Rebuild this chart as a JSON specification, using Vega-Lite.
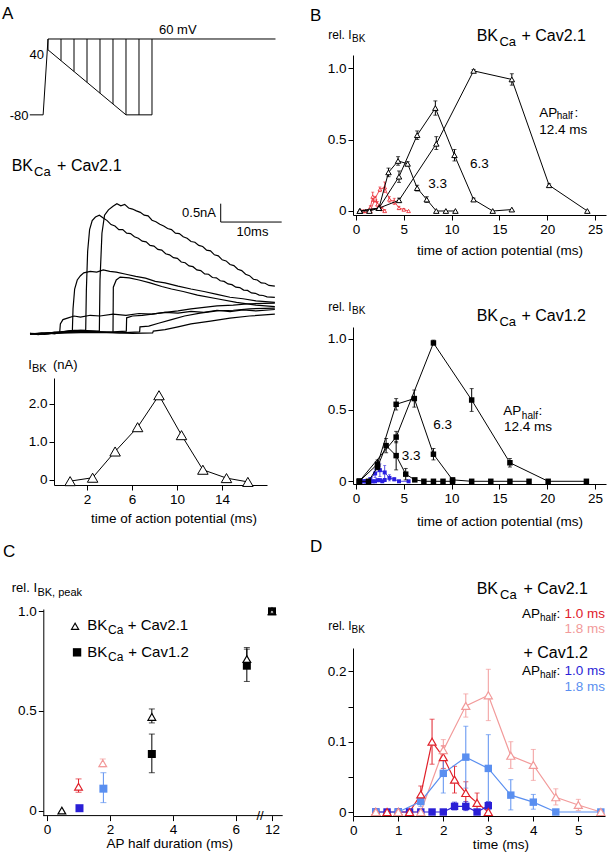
{
"$schema": "https://vega.github.io/schema/vega-lite/v6.json",
"background": "white",
"padding": {"left": 2, "top": 4, "right": 2, "bottom": 2},
"bounds": "flush",
"spacing": 299,
"config": {
  "view": {"stroke": null},
  "font": "Liberation Sans",
  "axis": {"domainColor": "black", "tickColor": "black", "labelColor": "black", "labelFont": "Liberation Sans", "labelFontSize": 13.5, "tickSize": 5, "labelPadding": 2, "grid": false, "domainWidth": 1, "tickWidth": 1, "labelFlush": false, "labelOverlap": false},
  "text": {"font": "Liberation Sans", "color": "black", "baseline": "alphabetic", "align": "left", "fontSize": 13.5}
},
"datasets": {
  "proto": [
    {"t1": -2.8, "v1": -80, "t2": -0.75, "v2": -80},
    {"t1": -0.75, "v1": -80, "t2": 0, "v2": 60},
    {"t1": 0, "v1": 60, "t2": 35, "v2": 60},
    {"t1": 0, "v1": 40, "t2": 12, "v2": -80},
    {"t1": 12, "v1": -80, "t2": 16, "v2": -80},
    {"t1": 0, "v1": 60, "t2": 0, "v2": 40},
    {"t1": 2, "v1": 60, "t2": 2, "v2": 20},
    {"t1": 4, "v1": 60, "t2": 4, "v2": 0},
    {"t1": 6, "v1": 60, "t2": 6, "v2": -20},
    {"t1": 8, "v1": 60, "t2": 8, "v2": -40},
    {"t1": 10, "v1": 60, "t2": 10, "v2": -60},
    {"t1": 12, "v1": 60, "t2": 12, "v2": -80},
    {"t1": 14, "v1": 60, "t2": 14, "v2": -80},
    {"t1": 16, "v1": 60, "t2": 16, "v2": -80}
  ],
  "traces": [
    {"tr":1,"t":-2.77,"i":0.02},{"tr":1,"t":-1.5,"i":-0.02},{"tr":1,"t":0,"i":0.03},{"tr":1,"t":1,"i":0},{"tr":1,"t":1.8,"i":0.04},{"tr":1,"t":1.9,"i":0.28},{"tr":1,"t":2.3,"i":0.4},{"tr":1,"t":3,"i":0.44},{"tr":1,"t":4,"i":0.5},{"tr":1,"t":5,"i":0.47},{"tr":1,"t":6.5,"i":0.52},{"tr":1,"t":8,"i":0.5},{"tr":1,"t":10,"i":0.55},{"tr":1,"t":12,"i":0.52},{"tr":1,"t":14,"i":0.57},{"tr":1,"t":16,"i":0.55},{"tr":1,"t":18,"i":0.6},{"tr":1,"t":20,"i":0.58},{"tr":1,"t":22,"i":0.63},{"tr":1,"t":24,"i":0.6},{"tr":1,"t":26,"i":0.66},{"tr":1,"t":28,"i":0.62},{"tr":1,"t":30,"i":0.67},{"tr":1,"t":32,"i":0.64},{"tr":1,"t":34.9,"i":0.68},
    {"tr":2,"t":-2.77,"i":0},{"tr":2,"t":-1,"i":0.03},{"tr":2,"t":0,"i":0.02},{"tr":2,"t":1,"i":0.05},{"tr":2,"t":2,"i":0.05},{"tr":2,"t":3,"i":0.08},{"tr":2,"t":3.75,"i":0.1},{"tr":2,"t":3.85,"i":0.7},{"tr":2,"t":4.1,"i":1.25},{"tr":2,"t":4.5,"i":1.5},{"tr":2,"t":5,"i":1.62},{"tr":2,"t":5.5,"i":1.7},{"tr":2,"t":6.5,"i":1.74},{"tr":2,"t":7.5,"i":1.72},{"tr":2,"t":8.5,"i":1.78},{"tr":2,"t":9.5,"i":1.74},{"tr":2,"t":10.5,"i":1.72},{"tr":2,"t":12,"i":1.66},{"tr":2,"t":13.5,"i":1.6},{"tr":2,"t":15,"i":1.55},{"tr":2,"t":16.5,"i":1.46},{"tr":2,"t":18,"i":1.42},{"tr":2,"t":20,"i":1.33},{"tr":2,"t":22,"i":1.25},{"tr":2,"t":24,"i":1.18},{"tr":2,"t":26,"i":1.1},{"tr":2,"t":28,"i":1.02},{"tr":2,"t":30,"i":0.98},{"tr":2,"t":32,"i":0.92},{"tr":2,"t":34.9,"i":0.88},
    {"tr":3,"t":-2.77,"i":0.01},{"tr":3,"t":-0.5,"i":-0.01},{"tr":3,"t":2,"i":0.06},{"tr":3,"t":4,"i":0.1},{"tr":3,"t":5.8,"i":0.1},{"tr":3,"t":5.9,"i":1.2},{"tr":3,"t":6.1,"i":2.3},{"tr":3,"t":6.4,"i":2.9},{"tr":3,"t":6.8,"i":3.15},{"tr":3,"t":7.3,"i":3.25},{"tr":3,"t":7.9,"i":3.3},{"tr":3,"t":8.5,"i":3.22},{"tr":3,"t":9.1,"i":3.15},{"tr":3,"t":9.7,"i":3.04},{"tr":3,"t":10.3,"i":3.0},{"tr":3,"t":10.9,"i":2.9},{"tr":3,"t":11.5,"i":2.9},{"tr":3,"t":12.1,"i":2.8},{"tr":3,"t":12.7,"i":2.79},{"tr":3,"t":13.3,"i":2.7},{"tr":3,"t":13.9,"i":2.66},{"tr":3,"t":14.5,"i":2.58},{"tr":3,"t":15.1,"i":2.56},{"tr":3,"t":15.7,"i":2.46},{"tr":3,"t":16.3,"i":2.44},{"tr":3,"t":16.9,"i":2.35},{"tr":3,"t":17.5,"i":2.33},{"tr":3,"t":18.1,"i":2.23},{"tr":3,"t":18.7,"i":2.2},{"tr":3,"t":19.3,"i":2.12},{"tr":3,"t":19.9,"i":2.1},{"tr":3,"t":20.5,"i":2.0},{"tr":3,"t":21.1,"i":1.98},{"tr":3,"t":21.7,"i":1.89},{"tr":3,"t":22.3,"i":1.87},{"tr":3,"t":22.9,"i":1.78},{"tr":3,"t":23.5,"i":1.76},{"tr":3,"t":24.1,"i":1.67},{"tr":3,"t":24.7,"i":1.66},{"tr":3,"t":25.3,"i":1.57},{"tr":3,"t":25.9,"i":1.56},{"tr":3,"t":26.5,"i":1.48},{"tr":3,"t":27.1,"i":1.46},{"tr":3,"t":27.7,"i":1.39},{"tr":3,"t":28.3,"i":1.37},{"tr":3,"t":28.9,"i":1.3},{"tr":3,"t":29.5,"i":1.29},{"tr":3,"t":30.1,"i":1.22},{"tr":3,"t":30.7,"i":1.21},{"tr":3,"t":31.3,"i":1.14},{"tr":3,"t":31.9,"i":1.13},{"tr":3,"t":32.5,"i":1.08},{"tr":3,"t":33.1,"i":1.07},{"tr":3,"t":33.7,"i":1.03},{"tr":3,"t":34.9,"i":1.02},
    {"tr":4,"t":-2.77,"i":0},{"tr":4,"t":0,"i":0.03},{"tr":4,"t":2,"i":0.05},{"tr":4,"t":5,"i":0.1},{"tr":4,"t":7.9,"i":0.08},{"tr":4,"t":8,"i":1.5},{"tr":4,"t":8.3,"i":2.8},{"tr":4,"t":8.7,"i":3.3},{"tr":4,"t":9.3,"i":3.45},{"tr":4,"t":10,"i":3.55},{"tr":4,"t":10.6,"i":3.62},{"tr":4,"t":11.2,"i":3.56},{"tr":4,"t":11.8,"i":3.6},{"tr":4,"t":12.4,"i":3.5},{"tr":4,"t":13.0,"i":3.47},{"tr":4,"t":13.6,"i":3.42},{"tr":4,"t":14.2,"i":3.38},{"tr":4,"t":14.8,"i":3.3},{"tr":4,"t":15.4,"i":3.28},{"tr":4,"t":16.0,"i":3.16},{"tr":4,"t":16.6,"i":3.12},{"tr":4,"t":17.2,"i":3.05},{"tr":4,"t":17.8,"i":3.0},{"tr":4,"t":18.4,"i":2.93},{"tr":4,"t":19.0,"i":2.9},{"tr":4,"t":19.6,"i":2.8},{"tr":4,"t":20.2,"i":2.79},{"tr":4,"t":20.8,"i":2.7},{"tr":4,"t":21.4,"i":2.66},{"tr":4,"t":22.0,"i":2.57},{"tr":4,"t":22.6,"i":2.55},{"tr":4,"t":23.2,"i":2.46},{"tr":4,"t":23.8,"i":2.43},{"tr":4,"t":24.4,"i":2.33},{"tr":4,"t":25.0,"i":2.31},{"tr":4,"t":25.6,"i":2.2},{"tr":4,"t":26.2,"i":2.17},{"tr":4,"t":26.8,"i":2.06},{"tr":4,"t":27.4,"i":2.03},{"tr":4,"t":28.0,"i":1.93},{"tr":4,"t":28.6,"i":1.9},{"tr":4,"t":29.2,"i":1.8},{"tr":4,"t":29.8,"i":1.76},{"tr":4,"t":30.4,"i":1.66},{"tr":4,"t":31.0,"i":1.62},{"tr":4,"t":31.6,"i":1.52},{"tr":4,"t":32.2,"i":1.5},{"tr":4,"t":32.8,"i":1.42},{"tr":4,"t":33.4,"i":1.41},{"tr":4,"t":34.0,"i":1.35},{"tr":4,"t":34.9,"i":1.33},
    {"tr":5,"t":-2.77,"i":0.02},{"tr":5,"t":0,"i":0},{"tr":5,"t":3,"i":0.06},{"tr":5,"t":6,"i":0.08},{"tr":5,"t":9,"i":0.05},{"tr":5,"t":10,"i":0.06},{"tr":5,"t":10.05,"i":1.3},{"tr":5,"t":10.5,"i":1.5},{"tr":5,"t":11.1,"i":1.58},{"tr":5,"t":12.5,"i":1.56},{"tr":5,"t":14,"i":1.5},{"tr":5,"t":15.7,"i":1.42},{"tr":5,"t":17.5,"i":1.32},{"tr":5,"t":19,"i":1.25},{"tr":5,"t":20.8,"i":1.18},{"tr":5,"t":23,"i":1.08},{"tr":5,"t":26,"i":0.98},{"tr":5,"t":29,"i":0.88},{"tr":5,"t":32,"i":0.8},{"tr":5,"t":34.9,"i":0.76},
    {"tr":6,"t":-2.77,"i":0},{"tr":6,"t":2,"i":0.04},{"tr":6,"t":5,"i":0.08},{"tr":6,"t":8,"i":0.05},{"tr":6,"t":10,"i":0.06},{"tr":6,"t":12.05,"i":0.08},{"tr":6,"t":12.1,"i":0.45},{"tr":6,"t":13,"i":0.5},{"tr":6,"t":14.5,"i":0.52},{"tr":6,"t":16,"i":0.55},{"tr":6,"t":18,"i":0.6},{"tr":6,"t":20,"i":0.64},{"tr":6,"t":22,"i":0.7},{"tr":6,"t":24,"i":0.74},{"tr":6,"t":26,"i":0.78},{"tr":6,"t":28.5,"i":0.8},{"tr":6,"t":31,"i":0.84},{"tr":6,"t":34.9,"i":0.86},
    {"tr":7,"t":-2.77,"i":0},{"tr":7,"t":4,"i":0.05},{"tr":7,"t":8,"i":0.05},{"tr":7,"t":11,"i":0.03},{"tr":7,"t":14.1,"i":0.06},{"tr":7,"t":14.15,"i":0.2},{"tr":7,"t":15.5,"i":0.22},{"tr":7,"t":17,"i":0.3},{"tr":7,"t":19,"i":0.4},{"tr":7,"t":21,"i":0.5},{"tr":7,"t":23.4,"i":0.58},{"tr":7,"t":26,"i":0.64},{"tr":7,"t":28.5,"i":0.66},{"tr":7,"t":31,"i":0.7},{"tr":7,"t":34.9,"i":0.72},
    {"tr":8,"t":-2.77,"i":0},{"tr":8,"t":5,"i":0.04},{"tr":8,"t":10,"i":0.04},{"tr":8,"t":13,"i":0.02},{"tr":8,"t":16.1,"i":0.03},{"tr":8,"t":16.2,"i":0.08},{"tr":8,"t":18,"i":0.12},{"tr":8,"t":20,"i":0.2},{"tr":8,"t":22,"i":0.28},{"tr":8,"t":25,"i":0.36},{"tr":8,"t":28,"i":0.44},{"tr":8,"t":31,"i":0.5},{"tr":8,"t":34.9,"i":0.55}
  ],
  "ibk": [
    {"t":0.5,"i":-0.03},{"t":2.5,"i":0.06},{"t":4.5,"i":0.75},{"t":6.5,"i":1.39},{"t":8.4,"i":2.23},{"t":10.4,"i":1.18},{"t":12.3,"i":0.27},{"t":14.4,"i":0.05},{"t":16.3,"i":-0.05}
  ],
  "btop": [
    {"ser":"3.3","t":0.4,"v":0},{"ser":"3.3","t":1.4,"v":0},{"ser":"3.3","t":2.4,"v":0.02},{"ser":"3.3","t":3.4,"v":0.27,"lo":0.24,"hi":0.3},{"ser":"3.3","t":4.4,"v":0.35,"lo":0.32,"hi":0.38},{"ser":"3.3","t":5.4,"v":0.33,"lo":0.315,"hi":0.345},{"ser":"3.3","t":6.4,"v":0.16,"lo":0.14,"hi":0.18},{"ser":"3.3","t":7.4,"v":0.08,"lo":0.06,"hi":0.1},{"ser":"3.3","t":8.4,"v":0},{"ser":"3.3","t":9.4,"v":0},{"ser":"3.3","t":10.4,"v":0},
    {"ser":"6.3","t":0.4,"v":0},{"ser":"6.3","t":2.4,"v":0.02},{"ser":"6.3","t":4.5,"v":0.24,"lo":0.2,"hi":0.28},{"ser":"6.3","t":6.4,"v":0.53,"lo":0.5,"hi":0.56},{"ser":"6.3","t":8.3,"v":0.72,"lo":0.67,"hi":0.77},{"ser":"6.3","t":10.3,"v":0.39,"lo":0.35,"hi":0.43},{"ser":"6.3","t":12.3,"v":0.08,"lo":0.07,"hi":0.09},{"ser":"6.3","t":14.3,"v":0},{"ser":"6.3","t":16.3,"v":0.01},
    {"ser":"12.4","t":0.4,"v":0},{"ser":"12.4","t":2.4,"v":0.02},{"ser":"12.4","t":4.5,"v":0.075,"lo":0.06,"hi":0.09},{"ser":"12.4","t":8.4,"v":0.47,"lo":0.43,"hi":0.52},{"ser":"12.4","t":12.3,"v":0.98,"lo":0.97,"hi":0.99},{"ser":"12.4","t":16.3,"v":0.92,"lo":0.88,"hi":0.96},{"ser":"12.4","t":20.2,"v":0.18,"lo":0.17,"hi":0.19},{"ser":"12.4","t":24.2,"v":0}
  ],
  "bbot": [
    {"ser":"3.3","t":0.35,"v":0},{"ser":"3.3","t":1.3,"v":0},{"ser":"3.3","t":2.25,"v":0.1,"lo":0.08,"hi":0.12},{"ser":"3.3","t":3.15,"v":0.25,"lo":0.2,"hi":0.3},{"ser":"3.3","t":4.2,"v":0.18,"lo":0.08,"hi":0.28},{"ser":"3.3","t":5.2,"v":0.05,"lo":0.01,"hi":0.09},{"ser":"3.3","t":6.15,"v":0.01},{"ser":"3.3","t":7.1,"v":0},{"ser":"3.3","t":8.1,"v":0},{"ser":"3.3","t":9.1,"v":0},{"ser":"3.3","t":10.1,"v":0},
    {"ser":"6.3","t":0.35,"v":0},{"ser":"6.3","t":2.25,"v":0.12,"lo":0.09,"hi":0.15},{"ser":"6.3","t":4.2,"v":0.54,"lo":0.5,"hi":0.58},{"ser":"6.3","t":6.1,"v":0.58,"lo":0.52,"hi":0.64},{"ser":"6.3","t":8.1,"v":0.19,"lo":0.15,"hi":0.23},{"ser":"6.3","t":10.1,"v":0.01},{"ser":"6.3","t":12.1,"v":0},{"ser":"6.3","t":14.1,"v":0},{"ser":"6.3","t":16.1,"v":0},{"ser":"6.3","t":18.1,"v":0},
    {"ser":"12.4","t":0.35,"v":0},{"ser":"12.4","t":4.2,"v":0.31,"lo":0.27,"hi":0.35},{"ser":"12.4","t":8.1,"v":0.97,"lo":0.96,"hi":0.99},{"ser":"12.4","t":12.1,"v":0.57,"lo":0.49,"hi":0.65},{"ser":"12.4","t":16.1,"v":0.13,"lo":0.1,"hi":0.16},{"ser":"12.4","t":20.1,"v":0},{"ser":"12.4","t":24.1,"v":0}
  ],
  "dd": [
    {"s":"r1","t":0.5,"v":0},{"s":"r1","t":0.75,"v":0},{"s":"r1","t":1.0,"v":0},{"s":"r1","t":1.25,"v":0},{"s":"r1","t":1.5,"v":0.025,"lo":0.013,"hi":0.037},{"s":"r1","t":1.75,"v":0.1,"lo":0.068,"hi":0.132},{"s":"r1","t":2.0,"v":0.078,"lo":0.062,"hi":0.094},{"s":"r1","t":2.25,"v":0.046,"lo":0.027,"hi":0.065},{"s":"r1","t":2.5,"v":0.027,"lo":0.011,"hi":0.043},{"s":"r1","t":2.75,"v":0.013,"lo":0.003,"hi":0.027},{"s":"r1","t":3.0,"v":0,"lo":-0.002,"hi":0.01},
    {"s":"r2","t":0.5,"v":0},{"s":"r2","t":1.0,"v":0},{"s":"r2","t":1.5,"v":0},{"s":"r2","t":2.0,"v":0.088,"lo":0.075,"hi":0.103},{"s":"r2","t":2.5,"v":0.151,"lo":0.135,"hi":0.168},{"s":"r2","t":3.0,"v":0.166,"lo":0.13,"hi":0.203},{"s":"r2","t":3.5,"v":0.08,"lo":0.062,"hi":0.1},{"s":"r2","t":4.0,"v":0.067,"lo":0.045,"hi":0.089},{"s":"r2","t":4.5,"v":0.021,"lo":0.01,"hi":0.033},{"s":"r2","t":5.0,"v":0.01,"lo":0.002,"hi":0.018},{"s":"r2","t":5.5,"v":0},
    {"s":"b1","t":0.5,"v":0},{"s":"b1","t":0.75,"v":0},{"s":"b1","t":1.0,"v":0},{"s":"b1","t":1.25,"v":0},{"s":"b1","t":1.5,"v":0},{"s":"b1","t":1.75,"v":0},{"s":"b1","t":2.0,"v":0},{"s":"b1","t":2.25,"v":0.008,"lo":0.003,"hi":0.014},{"s":"b1","t":2.5,"v":0.008,"lo":0.002,"hi":0.015},{"s":"b1","t":2.75,"v":0},{"s":"b1","t":3.0,"v":0.009,"lo":0.003,"hi":0.015},
    {"s":"b2","t":0.5,"v":0},{"s":"b2","t":1.0,"v":0},{"s":"b2","t":1.5,"v":0.015,"lo":0.008,"hi":0.022},{"s":"b2","t":2.0,"v":0.055,"lo":0.027,"hi":0.086},{"s":"b2","t":2.5,"v":0.078,"lo":0.034,"hi":0.122},{"s":"b2","t":3.0,"v":0.062,"lo":0.013,"hi":0.11},{"s":"b2","t":3.5,"v":0.024,"lo":0.003,"hi":0.046},{"s":"b2","t":4.0,"v":0.014,"lo":0.004,"hi":0.025},{"s":"b2","t":4.5,"v":0},{"s":"b2","t":5.5,"v":0}
  ],
  "cc": [
    {"ch":"Cav2.1","s":"k","ap":0.47,"v":0},{"ch":"Cav2.1","s":"r1","ap":1.0,"v":0.12,"lo":0.092,"hi":0.159},{"ch":"Cav2.1","s":"r2","ap":1.77,"v":0.237,"lo":0.22,"hi":0.259},{"ch":"Cav2.1","s":"k","ap":3.33,"v":0.47,"lo":0.44,"hi":0.51},{"ch":"Cav2.1","s":"k","ap":6.35,"v":0.76,"lo":0.72,"hi":0.81},{"ch":"Cav2.1","s":"k","ap":12,"v":1.0},
    {"ch":"Cav1.2","s":"b1","ap":1.03,"v":0.012},{"ch":"Cav1.2","s":"b2","ap":1.79,"v":0.11,"lo":0.04,"hi":0.19},{"ch":"Cav1.2","s":"k","ap":3.33,"v":0.284,"lo":0.19,"hi":0.384},{"ch":"Cav1.2","s":"k","ap":6.35,"v":0.727,"lo":0.648,"hi":0.818},{"ch":"Cav1.2","s":"k","ap":12,"v":1.0}
  ]
},
"hconcat": [
{
 "bounds": "flush", "spacing": 0,
 "vconcat": [
  {
   "width": 224, "height": 87,
   "data": {"values": [{}]},
   "layer": [
    {"data": {"name": "proto"}, "mark": {"type": "rule", "color": "black", "strokeWidth": 1},
     "encoding": {"x": {"field": "t1", "type": "quantitative", "scale": {"domain": [0.923, 35.385], "nice": false, "zero": false}, "axis": null},
                  "x2": {"field": "t2"},
                  "y": {"field": "v1", "type": "quantitative", "scale": {"domain": [-130.1, 30.46], "nice": false, "zero": false}, "axis": null},
                  "y2": {"field": "v2"}}},
    {"mark": {"type": "text", "baseline": "top", "fontSize": 17}, "encoding": {"x": {"datum": -7.077, "axis": null}, "y": {"datum": 120.9, "axis": null}, "text": {"value": "A"}}},
    {"mark": {"type": "text", "fontSize": 13}, "encoding": {"x": {"datum": 17.08, "axis": null}, "y": {"datum": 69.2, "axis": null}, "text": {"value": "60 mV"}}},
    {"mark": {"type": "text", "align": "right", "fontSize": 13}, "encoding": {"x": {"datum": -0.615, "axis": null}, "y": {"datum": 23.6, "axis": null}, "text": {"value": "40"}}},
    {"mark": {"type": "text", "align": "right", "fontSize": 13}, "encoding": {"x": {"datum": -3.0, "axis": null}, "y": {"datum": -90.1, "axis": null}, "text": {"value": "-80"}}}
   ]
  },
  {
   "width": 224, "height": 236,
   "data": {"values": [{}]},
   "layer": [
    {"data": {"name": "traces"}, "mark": {"type": "line", "color": "black", "strokeWidth": 1.2},
     "encoding": {"x": {"field": "t", "type": "quantitative", "scale": {"domain": [0.923, 35.385], "nice": false, "zero": false}, "axis": null},
                  "y": {"field": "i", "type": "quantitative", "scale": {"domain": [-1.222, 5.333], "nice": false, "zero": false}, "axis": null},
                  "detail": {"field": "tr", "type": "nominal"}}},
    {"mark": {"type": "rule", "color": "black"}, "encoding": {"x": {"datum": 26.57, "axis": null}, "y": {"datum": 3.11, "axis": null}, "y2": {"datum": 3.62}}},
    {"mark": {"type": "rule", "color": "black"}, "encoding": {"x": {"datum": 26.57, "axis": null}, "x2": {"datum": 35.95}, "y": {"datum": 3.11, "axis": null}}},
    {"mark": {"type": "text", "align": "right", "fontSize": 13}, "encoding": {"x": {"datum": 25.85, "axis": null}, "y": {"datum": 3.25, "axis": null}, "text": {"value": "0.5nA"}}},
    {"mark": {"type": "text", "align": "center", "fontSize": 13}, "encoding": {"x": {"datum": 31.46, "axis": null}, "y": {"datum": 2.72, "axis": null}, "text": {"value": "10ms"}}},
    {"mark": {"type": "text", "fontSize": 16}, "encoding": {"x": {"datum": -5.585, "axis": null}, "y": {"datum": 4.528, "axis": null}, "text": {"value": "BK"}}},
    {"mark": {"type": "text", "fontSize": 13}, "encoding": {"x": {"datum": -2.154, "axis": null}, "y": {"datum": 4.389, "axis": null}, "text": {"value": "Ca"}}},
    {"mark": {"type": "text", "fontSize": 16}, "encoding": {"x": {"datum": 1.4, "axis": null}, "y": {"datum": 4.528, "axis": null}, "text": {"value": "+ Cav2.1"}}}
   ]
  },
  {
   "width": 213, "height": 107,
   "data": {"values": [{}]},
   "layer": [
    {"data": {"name": "ibk"}, "mark": {"type": "line", "color": "black", "strokeWidth": 1},
     "encoding": {"x": {"field": "t", "type": "quantitative", "scale": {"domain": [-0.933, 18.0], "nice": false, "zero": false}, "axis": {"values": [2, 6, 10, 14], "title": null, "format": "d"}},
                  "y": {"field": "i", "type": "quantitative", "scale": {"domain": [-0.1316, 2.684], "nice": false, "zero": false}, "axis": {"values": [0, 1, 2], "title": null, "labelExpr": "datum.value == 0 ? '0' : format(datum.value, '.1f')"}}}},
    {"data": {"name": "ibk"}, "mark": {"type": "point", "shape": "triangle-up", "filled": false, "fill": "white", "color": "black", "size": 110, "strokeWidth": 1, "opacity": 1},
     "encoding": {"x": {"field": "t", "type": "quantitative"}, "y": {"field": "i", "type": "quantitative"}}},
    {"mark": {"type": "text", "fontSize": 13}, "encoding": {"x": {"datum": -3.218}, "y": {"datum": 2.913}, "text": {"value": "I"}}},
    {"mark": {"type": "text", "fontSize": 11}, "encoding": {"x": {"datum": -2.889}, "y": {"datum": 2.842}, "text": {"value": "BK"}}},
    {"mark": {"type": "text", "fontSize": 13}, "encoding": {"x": {"datum": -1.022}, "y": {"datum": 2.913}, "text": {"value": "(nA)"}}},
    {"mark": {"type": "text", "align": "center", "baseline": "middle", "fontSize": 13.5}, "encoding": {"x": {"datum": 9.73}, "y": {"datum": -1.026}, "text": {"value": "time of action potential (ms)"}}}
   ]
  },
  {"width": 1, "height": 123.7, "data": {"values": [{}]}, "mark": {"type": "point", "opacity": 0}, "encoding": {}},
  {
   "width": 228.7, "height": 206.6,
   "data": {"values": [{}]},
   "layer": [
    {"data": {"name": "cc"}, "transform": [{"filter": "isValid(datum.hi)"}],
     "mark": {"type": "errorbar", "ticks": {"size": 6}, "thickness": 1},
     "encoding": {"x": {"field": "ap", "type": "quantitative", "scale": {"domain": [-0.12, 6.8, 11.8, 12.5], "range": [-10.7, 207, 213.7, 228.7], "nice": false, "zero": false}, "axis": {"values": [0, 2, 4, 6, 12], "title": null, "domain": false, "format": "d"}},
                  "y": {"field": "lo", "type": "quantitative", "scale": {"domain": [-0.0251, 1.0115], "nice": false, "zero": false}, "axis": {"values": [0, 0.5, 1], "title": null, "offset": 10.7, "labelExpr": "datum.value == 0 ? '0' : format(datum.value, '.1f')"}},
                  "y2": {"field": "hi"},
                  "color": {"field": "s", "type": "nominal", "scale": {"domain": ["k","r1","r2","b1","b2"], "range": ["black","#e0202a","#f29a9a","#2a1fd6","#5a8ff0"]}, "legend": null}}},
    {"data": {"name": "cc"}, "transform": [{"filter": "datum.ch == 'Cav2.1'"}],
     "mark": {"type": "point", "shape": "triangle-up", "filled": false, "fill": "white", "size": 60, "strokeWidth": 1.2, "opacity": 1},
     "encoding": {"x": {"field": "ap", "type": "quantitative"}, "y": {"field": "v", "type": "quantitative"},
                  "color": {"field": "s", "type": "nominal", "scale": {"domain": ["k","r1","r2","b1","b2"], "range": ["black","#e0202a","#f29a9a","#2a1fd6","#5a8ff0"]}, "legend": null}}},
    {"data": {"name": "cc"}, "transform": [{"filter": "datum.ch == 'Cav1.2'"}],
     "mark": {"type": "square", "filled": true, "size": 64, "opacity": 1},
     "encoding": {"x": {"field": "ap", "type": "quantitative"}, "y": {"field": "v", "type": "quantitative"},
                  "color": {"field": "s", "type": "nominal", "scale": {"domain": ["k","r1","r2","b1","b2"], "range": ["black","#e0202a","#f29a9a","#2a1fd6","#5a8ff0"]}, "legend": null}}},
    {"data": {"name": "cc"}, "transform": [{"filter": "datum.ch == 'Cav2.1' && datum.ap == 12"}],
     "mark": {"type": "point", "shape": "triangle-up", "filled": false, "fill": "white", "color": "black", "size": 18, "strokeWidth": 1, "opacity": 1},
     "encoding": {"x": {"field": "ap", "type": "quantitative"}, "y": {"field": "v", "type": "quantitative"}}},
    {"mark": {"type": "rule", "color": "black"}, "encoding": {"x": {"datum": -0.12}, "x2": {"datum": 12.5}, "y": {"datum": -0.0251}}},
    {"mark": {"type": "text", "align": "center", "baseline": "middle", "fontSize": 13}, "encoding": {"x": {"datum": 6.77}, "y": {"datum": -0.0251}, "text": {"value": "//"}}},
    {"mark": {"type": "text", "baseline": "top", "fontSize": 17}, "encoding": {"x": {"datum": -1.398}, "y": {"datum": 1.336}, "text": {"value": "C"}}},
    {"mark": {"type": "text", "fontSize": 13}, "encoding": {"x": {"datum": -1.122}, "y": {"datum": 1.095}, "text": {"value": "rel. I"}}},
    {"mark": {"type": "text", "fontSize": 11}, "encoding": {"x": {"datum": -0.308}, "y": {"datum": 1.077}, "text": {"value": "BK, peak"}}},
    {"mark": {"type": "point", "shape": "triangle-up", "filled": false, "fill": "white", "color": "black", "size": 50, "strokeWidth": 1.2, "opacity": 1}, "encoding": {"x": {"datum": 0.89}, "y": {"datum": 0.925}}},
    {"mark": {"type": "text", "fontSize": 15}, "encoding": {"x": {"datum": 1.28}, "y": {"datum": 0.906}, "text": {"value": "BK"}}},
    {"mark": {"type": "text", "fontSize": 12}, "encoding": {"x": {"datum": 1.938}, "y": {"datum": 0.885}, "text": {"value": "Ca"}}},
    {"mark": {"type": "text", "fontSize": 15}, "encoding": {"x": {"datum": 2.564}, "y": {"datum": 0.906}, "text": {"value": "+ Cav2.1"}}},
    {"mark": {"type": "square", "filled": true, "color": "black", "size": 70, "opacity": 1}, "encoding": {"x": {"datum": 0.953}, "y": {"datum": 0.794}}},
    {"mark": {"type": "text", "fontSize": 15}, "encoding": {"x": {"datum": 1.28}, "y": {"datum": 0.769}, "text": {"value": "BK"}}},
    {"mark": {"type": "text", "fontSize": 12}, "encoding": {"x": {"datum": 1.938}, "y": {"datum": 0.749}, "text": {"value": "Ca"}}},
    {"mark": {"type": "text", "fontSize": 15}, "encoding": {"x": {"datum": 2.583}, "y": {"datum": 0.769}, "text": {"value": "+ Cav1.2"}}},
    {"mark": {"type": "text", "align": "center", "baseline": "middle", "fontSize": 13.5}, "encoding": {"x": {"datum": 3.9}, "y": {"datum": -0.169}, "text": {"value": "AP half duration (ms)"}}}
   ]
  }
 ]
},
{
 "bounds": "flush", "spacing": 0,
 "vconcat": [
  {
   "width": 253, "height": 160,
   "data": {"values": [{}]},
   "layer": [
    {"data": {"name": "dd"}, "transform": [{"filter": "datum.s == 'r1' || datum.s == 'r2'"}],
     "mark": {"type": "line", "color": "#e8202a", "strokeWidth": 0.8},
     "encoding": {"x": {"field": "t", "type": "quantitative", "scale": {"domain": [-0.314, 26.15], "nice": false, "zero": false}, "axis": {"values": [0, 5, 10, 15, 20, 25], "title": null, "format": "d"}},
                  "y": {"field": "v", "type": "quantitative", "scale": {"domain": [-0.028, 1.091], "nice": false, "zero": false}, "axis": {"values": [0, 0.5, 1], "title": null, "labelExpr": "datum.value == 0 ? '0' : format(datum.value, '.1f')"}},
                  "detail": {"field": "s", "type": "nominal"}}},
    {"data": {"name": "dd"}, "transform": [{"filter": "(datum.s == 'r1' || datum.s == 'r2') && isValid(datum.hi)"}],
     "mark": {"type": "errorbar", "color": "#e8202a", "ticks": {"size": 3}, "thickness": 0.8},
     "encoding": {"x": {"field": "t", "type": "quantitative"}, "y": {"field": "lo", "type": "quantitative"}, "y2": {"field": "hi"}}},
    {"data": {"name": "dd"}, "transform": [{"filter": "datum.s == 'r1' || datum.s == 'r2'"}],
     "mark": {"type": "point", "shape": "triangle-up", "filled": false, "fill": "white", "color": "#e8202a", "size": 14, "strokeWidth": 0.8, "opacity": 1},
     "encoding": {"x": {"field": "t", "type": "quantitative"}, "y": {"field": "v", "type": "quantitative"}}},
    {"data": {"name": "btop"}, "transform": [{"filter": "isValid(datum.hi)"}],
     "mark": {"type": "errorbar", "color": "black", "ticks": {"size": 4}, "thickness": 1},
     "encoding": {"x": {"field": "t", "type": "quantitative"}, "y": {"field": "lo", "type": "quantitative"}, "y2": {"field": "hi"}}},
    {"data": {"name": "btop"}, "mark": {"type": "line", "color": "black", "strokeWidth": 1},
     "encoding": {"x": {"field": "t", "type": "quantitative"}, "y": {"field": "v", "type": "quantitative"}, "detail": {"field": "ser", "type": "nominal"}}},
    {"data": {"name": "btop"}, "mark": {"type": "point", "shape": "triangle-up", "filled": false, "fill": "white", "color": "black", "size": 30, "strokeWidth": 1, "opacity": 1},
     "encoding": {"x": {"field": "t", "type": "quantitative"}, "y": {"field": "v", "type": "quantitative"}}},
    {"mark": {"type": "text", "baseline": "top", "fontSize": 17}, "encoding": {"x": {"datum": -4.812}, "y": {"datum": 1.42}, "text": {"value": "B"}}},
    {"mark": {"type": "text", "fontSize": 12}, "encoding": {"x": {"datum": -2.9}, "y": {"datum": 1.2}, "text": {"value": "rel. I"}}},
    {"mark": {"type": "text", "fontSize": 10}, "encoding": {"x": {"datum": -0.418}, "y": {"datum": 1.182}, "text": {"value": "BK"}}},
    {"mark": {"type": "text", "fontSize": 16}, "encoding": {"x": {"datum": 12.62}, "y": {"datum": 1.187}, "text": {"value": "BK"}}},
    {"mark": {"type": "text", "fontSize": 13}, "encoding": {"x": {"datum": 15.0}, "y": {"datum": 1.154}, "text": {"value": "Ca"}}},
    {"mark": {"type": "text", "fontSize": 16}, "encoding": {"x": {"datum": 17.3}, "y": {"datum": 1.187}, "text": {"value": "+ Cav2.1"}}},
    {"mark": {"type": "text", "fontSize": 13.5}, "encoding": {"x": {"datum": 19.17}, "y": {"datum": 0.657}, "text": {"value": "AP"}}},
    {"mark": {"type": "text", "fontSize": 10}, "encoding": {"x": {"datum": 21.0}, "y": {"datum": 0.645}, "text": {"value": "half"}}},
    {"mark": {"type": "text", "fontSize": 13.5}, "encoding": {"x": {"datum": 22.85}, "y": {"datum": 0.657}, "text": {"value": ":"}}},
    {"mark": {"type": "text", "fontSize": 13.5}, "encoding": {"x": {"datum": 19.17}, "y": {"datum": 0.541}, "text": {"value": "12.4 ms"}}},
    {"mark": {"type": "text", "fontSize": 13.5}, "encoding": {"x": {"datum": 11.92}, "y": {"datum": 0.301}, "text": {"value": "6.3"}}},
    {"mark": {"type": "text", "fontSize": 13.5}, "encoding": {"x": {"datum": 7.56}, "y": {"datum": 0.161}, "text": {"value": "3.3"}}},
    {"mark": {"type": "text", "align": "center", "baseline": "middle", "fontSize": 13.5}, "encoding": {"x": {"datum": 15.06}, "y": {"datum": -0.282}, "text": {"value": "time of action potential (ms)"}}}
   ]
  },
  {"width": 1, "height": 112, "data": {"values": [{}]}, "mark": {"type": "point", "opacity": 0}, "encoding": {}},
  {
   "width": 253, "height": 157,
   "data": {"values": [{}]},
   "layer": [
    {"data": {"name": "dd"}, "transform": [{"filter": "datum.s == 'b1' || datum.s == 'b2'"}],
     "mark": {"type": "line", "color": "#2a1fe0", "strokeWidth": 0.8},
     "encoding": {"x": {"field": "t", "type": "quantitative", "scale": {"domain": [-0.314, 26.15], "nice": false, "zero": false}, "axis": {"values": [0, 5, 10, 15, 20, 25], "title": null, "format": "d"}},
                  "y": {"field": "v", "type": "quantitative", "scale": {"domain": [-0.019, 1.082], "nice": false, "zero": false}, "axis": {"values": [0, 0.5, 1], "title": null, "labelExpr": "datum.value == 0 ? '0' : format(datum.value, '.1f')"}},
                  "detail": {"field": "s", "type": "nominal"}}},
    {"data": {"name": "dd"}, "transform": [{"filter": "(datum.s == 'b1' || datum.s == 'b2') && isValid(datum.hi)"}],
     "mark": {"type": "errorbar", "color": "#2a1fe0", "ticks": {"size": 3}, "thickness": 0.8},
     "encoding": {"x": {"field": "t", "type": "quantitative"}, "y": {"field": "lo", "type": "quantitative"}, "y2": {"field": "hi"}}},
    {"data": {"name": "dd"}, "transform": [{"filter": "datum.s == 'b1' || datum.s == 'b2'"}],
     "mark": {"type": "square", "filled": true, "color": "#2a1fe0", "size": 16, "opacity": 1},
     "encoding": {"x": {"field": "t", "type": "quantitative"}, "y": {"field": "v", "type": "quantitative"}}},
    {"data": {"name": "bbot"}, "transform": [{"filter": "isValid(datum.hi)"}],
     "mark": {"type": "errorbar", "color": "black", "ticks": {"size": 4}, "thickness": 1},
     "encoding": {"x": {"field": "t", "type": "quantitative"}, "y": {"field": "lo", "type": "quantitative"}, "y2": {"field": "hi"}}},
    {"data": {"name": "bbot"}, "mark": {"type": "line", "color": "black", "strokeWidth": 1},
     "encoding": {"x": {"field": "t", "type": "quantitative"}, "y": {"field": "v", "type": "quantitative"}, "detail": {"field": "ser", "type": "nominal"}}},
    {"data": {"name": "bbot"}, "mark": {"type": "square", "filled": true, "color": "black", "size": 30, "opacity": 1},
     "encoding": {"x": {"field": "t", "type": "quantitative"}, "y": {"field": "v", "type": "quantitative"}}},
    {"mark": {"type": "text", "fontSize": 12}, "encoding": {"x": {"datum": -2.9}, "y": {"datum": 1.192}, "text": {"value": "rel. I"}}},
    {"mark": {"type": "text", "fontSize": 10}, "encoding": {"x": {"datum": -0.418}, "y": {"datum": 1.173}, "text": {"value": "BK"}}},
    {"mark": {"type": "text", "fontSize": 16}, "encoding": {"x": {"datum": 12.62}, "y": {"datum": 1.122}, "text": {"value": "BK"}}},
    {"mark": {"type": "text", "fontSize": 13}, "encoding": {"x": {"datum": 15.0}, "y": {"datum": 1.089}, "text": {"value": "Ca"}}},
    {"mark": {"type": "text", "fontSize": 16}, "encoding": {"x": {"datum": 17.3}, "y": {"datum": 1.122}, "text": {"value": "+ Cav1.2"}}},
    {"mark": {"type": "text", "fontSize": 13.5}, "encoding": {"x": {"datum": 15.41}, "y": {"datum": 0.463}, "text": {"value": "AP"}}},
    {"mark": {"type": "text", "fontSize": 10}, "encoding": {"x": {"datum": 17.35}, "y": {"datum": 0.44}, "text": {"value": "half"}}},
    {"mark": {"type": "text", "fontSize": 13.5}, "encoding": {"x": {"datum": 19.1}, "y": {"datum": 0.463}, "text": {"value": ":"}}},
    {"mark": {"type": "text", "fontSize": 13.5}, "encoding": {"x": {"datum": 15.48}, "y": {"datum": 0.351}, "text": {"value": "12.4 ms"}}},
    {"mark": {"type": "text", "fontSize": 13.5}, "encoding": {"x": {"datum": 8.09}, "y": {"datum": 0.369}, "text": {"value": "6.3"}}},
    {"mark": {"type": "text", "fontSize": 13.5}, "encoding": {"x": {"datum": 4.78}, "y": {"datum": 0.147}, "text": {"value": "3.3"}}},
    {"mark": {"type": "text", "align": "center", "baseline": "middle", "fontSize": 13.5}, "encoding": {"x": {"datum": 15.06}, "y": {"datum": -0.285}, "text": {"value": "time of action potential (ms)"}}}
   ]
  },
  {"width": 1, "height": 164, "data": {"values": [{}]}, "mark": {"type": "point", "opacity": 0}, "encoding": {}},
  {
   "width": 252, "height": 168,
   "data": {"values": [{}]},
   "layer": [
    {"data": {"name": "dd"}, "transform": [{"filter": "isValid(datum.hi)"}],
     "mark": {"type": "errorbar", "ticks": {"size": 5}, "thickness": 1},
     "encoding": {"x": {"field": "t", "type": "quantitative", "scale": {"domain": [-0.0067, 5.593], "nice": false, "zero": false}, "axis": {"values": [0, 1, 2, 3, 4, 5], "title": null, "format": "d"}},
                  "y": {"field": "lo", "type": "quantitative", "scale": {"domain": [-0.00569, 0.2333], "nice": false, "zero": false}, "axis": {"values": [0, 0.05, 0.1, 0.15, 0.2], "title": null, "labelExpr": "datum.value == 0 ? '0' : (abs(datum.value - 0.1) < 0.001 ? '0.1' : (abs(datum.value - 0.2) < 0.001 ? '0.2' : ''))"}},
                  "y2": {"field": "hi"},
                  "color": {"field": "s", "type": "nominal", "scale": {"domain": ["k","r1","r2","b1","b2"], "range": ["black","#e0202a","#f29a9a","#2a1fd6","#5a8ff0"]}, "legend": null}}},
    {"data": {"name": "dd"}, "mark": {"type": "line", "strokeWidth": 1.2},
     "encoding": {"x": {"field": "t", "type": "quantitative"}, "y": {"field": "v", "type": "quantitative"},
                  "color": {"field": "s", "type": "nominal", "scale": {"domain": ["k","r1","r2","b1","b2"], "range": ["black","#e0202a","#f29a9a","#2a1fd6","#5a8ff0"]}, "legend": null}}},
    {"data": {"name": "dd"}, "transform": [{"filter": "datum.s == 'b1' || datum.s == 'b2'"}],
     "mark": {"type": "square", "filled": true, "size": 55, "opacity": 1},
     "encoding": {"x": {"field": "t", "type": "quantitative"}, "y": {"field": "v", "type": "quantitative"},
                  "color": {"field": "s", "type": "nominal", "scale": {"domain": ["k","r1","r2","b1","b2"], "range": ["black","#e0202a","#f29a9a","#2a1fd6","#5a8ff0"]}, "legend": null}}},
    {"data": {"name": "dd"}, "transform": [{"filter": "datum.s == 'r2' || datum.s == 'r1'"}],
     "mark": {"type": "point", "shape": "triangle-up", "filled": false, "fill": "white", "size": 65, "strokeWidth": 1.2, "opacity": 1},
     "encoding": {"x": {"field": "t", "type": "quantitative"}, "y": {"field": "v", "type": "quantitative"},
                  "color": {"field": "s", "type": "nominal", "scale": {"domain": ["k","r1","r2","b1","b2"], "range": ["black","#e0202a","#f29a9a","#2a1fd6","#5a8ff0"]}, "legend": null}}},
    {"mark": {"type": "text", "baseline": "top", "fontSize": 17}, "encoding": {"x": {"datum": -0.962}, "y": {"datum": 0.388}, "text": {"value": "D"}}},
    {"mark": {"type": "text", "fontSize": 12}, "encoding": {"x": {"datum": -0.557}, "y": {"datum": 0.259}, "text": {"value": "rel. I"}}},
    {"mark": {"type": "text", "fontSize": 10}, "encoding": {"x": {"datum": -0.038}, "y": {"datum": 0.2546}, "text": {"value": "BK"}}},
    {"mark": {"type": "text", "fontSize": 16}, "encoding": {"x": {"datum": 2.742}, "y": {"datum": 0.31}, "text": {"value": "BK"}}},
    {"mark": {"type": "text", "fontSize": 13}, "encoding": {"x": {"datum": 3.26}, "y": {"datum": 0.303}, "text": {"value": "Ca"}}},
    {"mark": {"type": "text", "fontSize": 16}, "encoding": {"x": {"datum": 3.78}, "y": {"datum": 0.31}, "text": {"value": "+ Cav2.1"}}},
    {"mark": {"type": "text", "fontSize": 13.5}, "encoding": {"x": {"datum": 3.749}, "y": {"datum": 0.276}, "text": {"value": "AP"}}},
    {"mark": {"type": "text", "fontSize": 10}, "encoding": {"x": {"datum": 4.149}, "y": {"datum": 0.2717}, "text": {"value": "half"}}},
    {"mark": {"type": "text", "fontSize": 13.5}, "encoding": {"x": {"datum": 4.516}, "y": {"datum": 0.276}, "text": {"value": ":"}}},
    {"mark": {"type": "text", "align": "right", "fontSize": 13.5, "color": "#e0202a"}, "encoding": {"x": {"datum": 5.593}, "y": {"datum": 0.276}, "text": {"value": "1.0 ms"}}},
    {"mark": {"type": "text", "align": "right", "fontSize": 13.5, "color": "#f29a9a"}, "encoding": {"x": {"datum": 5.593}, "y": {"datum": 0.2546}, "text": {"value": "1.8 ms"}}},
    {"mark": {"type": "text", "fontSize": 16}, "encoding": {"x": {"datum": 3.78}, "y": {"datum": 0.219}, "text": {"value": "+ Cav1.2"}}},
    {"mark": {"type": "text", "fontSize": 13.5}, "encoding": {"x": {"datum": 3.749}, "y": {"datum": 0.1949}, "text": {"value": "AP"}}},
    {"mark": {"type": "text", "fontSize": 10}, "encoding": {"x": {"datum": 4.149}, "y": {"datum": 0.1906}, "text": {"value": "half"}}},
    {"mark": {"type": "text", "fontSize": 13.5}, "encoding": {"x": {"datum": 4.516}, "y": {"datum": 0.1949}, "text": {"value": ":"}}},
    {"mark": {"type": "text", "align": "right", "fontSize": 13.5, "color": "#2a1fd6"}, "encoding": {"x": {"datum": 5.593}, "y": {"datum": 0.1949}, "text": {"value": "1.0 ms"}}},
    {"mark": {"type": "text", "align": "right", "fontSize": 13.5, "color": "#5a8ff0"}, "encoding": {"x": {"datum": 5.593}, "y": {"datum": 0.1721}, "text": {"value": "1.8 ms"}}},
    {"mark": {"type": "text", "align": "center", "baseline": "middle", "fontSize": 13.5}, "encoding": {"x": {"datum": 3.282}, "y": {"datum": -0.0469}, "text": {"value": "time (ms)"}}}
   ]
  }
 ]
}
]
}
